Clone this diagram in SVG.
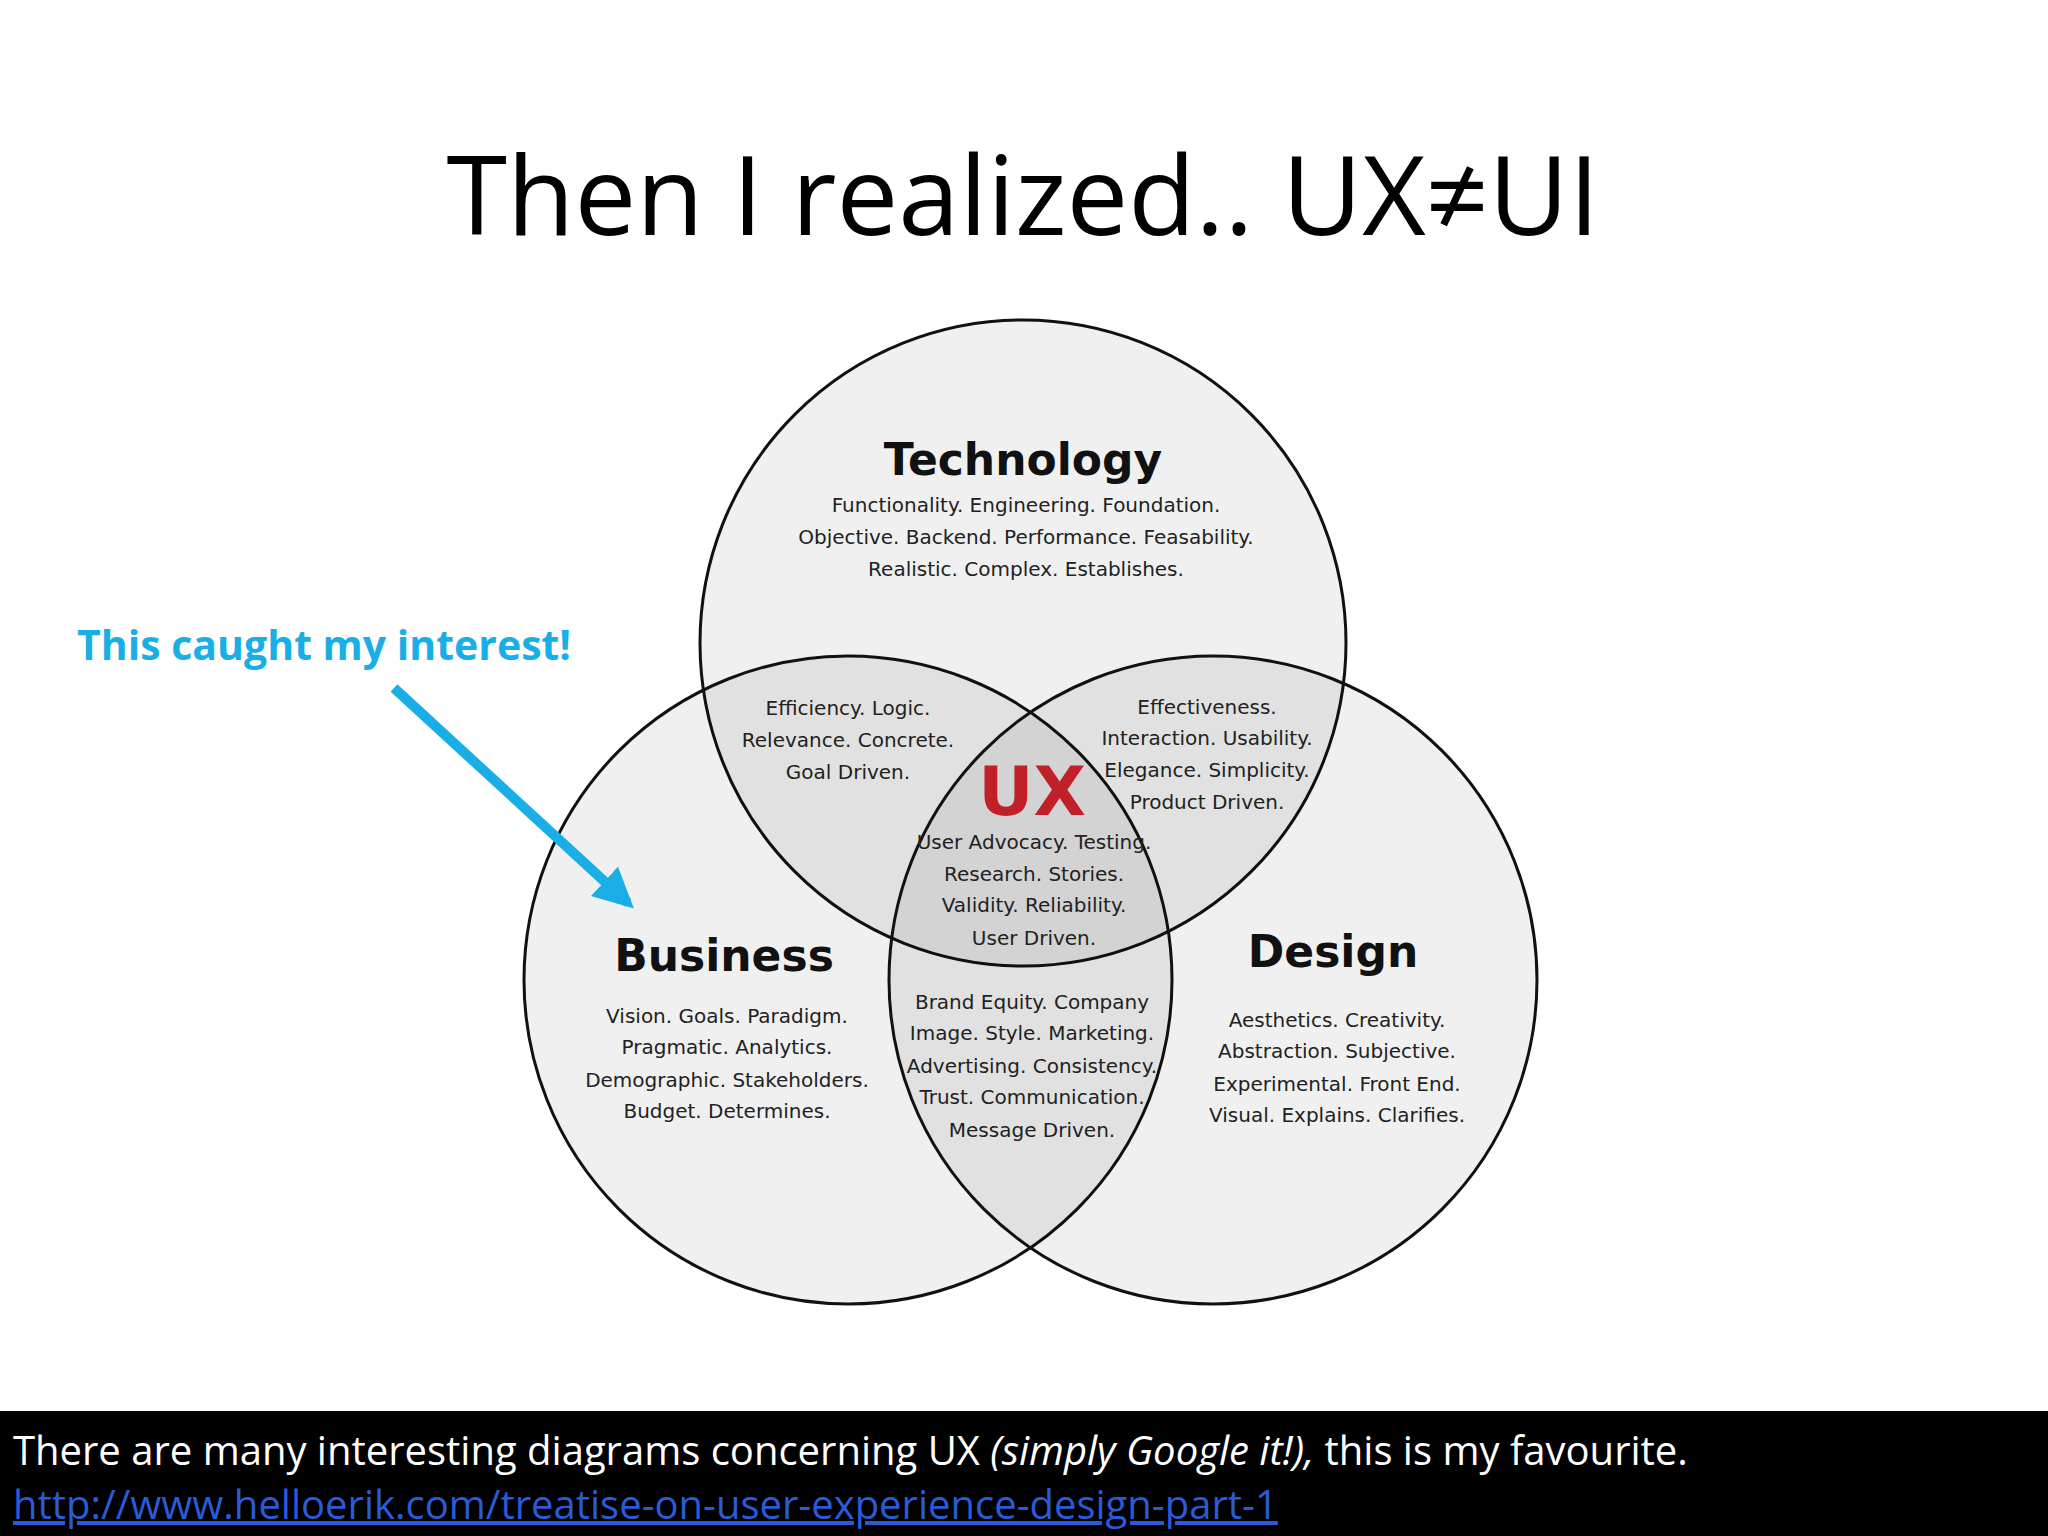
<svg xmlns="http://www.w3.org/2000/svg" width="2048" height="1536" viewBox="0 0 2048 1536">
<style>
.c{fill:#000;fill-opacity:0.06;stroke:#111;stroke-width:3}
.h{font-family:"DejaVu Sans",sans-serif;font-weight:bold;font-size:44px;fill:#111;text-anchor:middle}
.b{font-family:"DejaVu Sans",sans-serif;font-size:20px;fill:#222;text-anchor:middle}
</style>
<defs><marker id="ah" viewBox="0 0 10 10" refX="8" refY="5" markerWidth="4" markerHeight="4" orient="auto"><path d="M0,0L10,5L0,10z" fill="#1aaee6"/></marker></defs>
<rect width="2048" height="1536" fill="#fff"/>
<text x="1023" y="235" font-family="Open Sans,sans-serif" font-size="110" text-anchor="middle" fill="#000">Then I realized.. UX≠UI</text>
<g id="technology"><circle class="c" cx="1023" cy="643" r="323"/>
<text class="h" x="1023" y="475">Technology</text>
<text class="b" x="1026" y="512">Functionality. Engineering. Foundation.</text>
<text class="b" x="1026" y="544">Objective. Backend. Performance. Feasability.</text>
<text class="b" x="1026" y="576">Realistic. Complex. Establishes.</text></g>
<g id="business"><circle class="c" cx="848" cy="980" r="324"/>
<text class="h" x="724" y="971">Business</text>
<text class="b" x="727" y="1023">Vision. Goals. Paradigm.</text>
<text class="b" x="727" y="1054">Pragmatic.  Analytics.</text>
<text class="b" x="727" y="1087">Demographic. Stakeholders.</text>
<text class="b" x="727" y="1118">Budget.  Determines.</text></g>
<g id="design"><circle class="c" cx="1213" cy="980" r="324"/>
<text class="h" x="1333" y="967">Design</text>
<text class="b" x="1337" y="1027">Aesthetics. Creativity.</text>
<text class="b" x="1337" y="1058">Abstraction. Subjective.</text>
<text class="b" x="1337" y="1091">Experimental. Front End.</text>
<text class="b" x="1337" y="1122">Visual. Explains. Clarifies.</text></g>
<g id="tech-business"><text class="b" x="848" y="715">Efficiency. Logic.</text>
<text class="b" x="848" y="747">Relevance. Concrete.</text>
<text class="b" x="848" y="779">Goal Driven.</text></g>
<g id="tech-design"><text class="b" x="1207" y="714">Effectiveness.</text>
<text class="b" x="1207" y="745">Interaction. Usability.</text>
<text class="b" x="1207" y="777">Elegance. Simplicity.</text>
<text class="b" x="1207" y="809">Product Driven.</text></g>
<g id="ux"><text class="h" x="1032" y="815" style="fill:#c0202a;font-size:68px">UX</text>
<text class="b" x="1034" y="849">User Advocacy. Testing.</text>
<text class="b" x="1034" y="881">Research. Stories.</text>
<text class="b" x="1034" y="912">Validity. Reliability.</text>
<text class="b" x="1034" y="945">User Driven.</text></g>
<g id="business-design"><text class="b" x="1032" y="1009">Brand Equity. Company</text>
<text class="b" x="1032" y="1040">Image. Style. Marketing.</text>
<text class="b" x="1032" y="1073">Advertising. Consistency.</text>
<text class="b" x="1032" y="1104">Trust. Communication.</text>
<text class="b" x="1032" y="1137">Message Driven.</text></g>
<g id="note"><text x="77" y="660" font-family="Open Sans,sans-serif" font-weight="bold" font-size="41" fill="#1aaee6">This caught my interest!</text></g>
<g id="connectors"><line x1="394" y1="688" x2="628" y2="903" stroke="#1aaee6" stroke-width="10" marker-end="url(#ah)"/></g>
<rect x="0" y="1411" width="2048" height="125" fill="#000"/>
<text x="13" y="1465" font-family="Open Sans,sans-serif" font-size="40" fill="#fff">There are many interesting diagrams concerning UX <tspan font-style="italic">(simply Google it!),</tspan> this is my favourite.</text>
<text x="13" y="1519" font-family="Open Sans,sans-serif" font-size="40" fill="#2a5bd7" text-decoration="underline">http://www.helloerik.com/treatise-on-user-experience-design-part-1</text>
</svg>
